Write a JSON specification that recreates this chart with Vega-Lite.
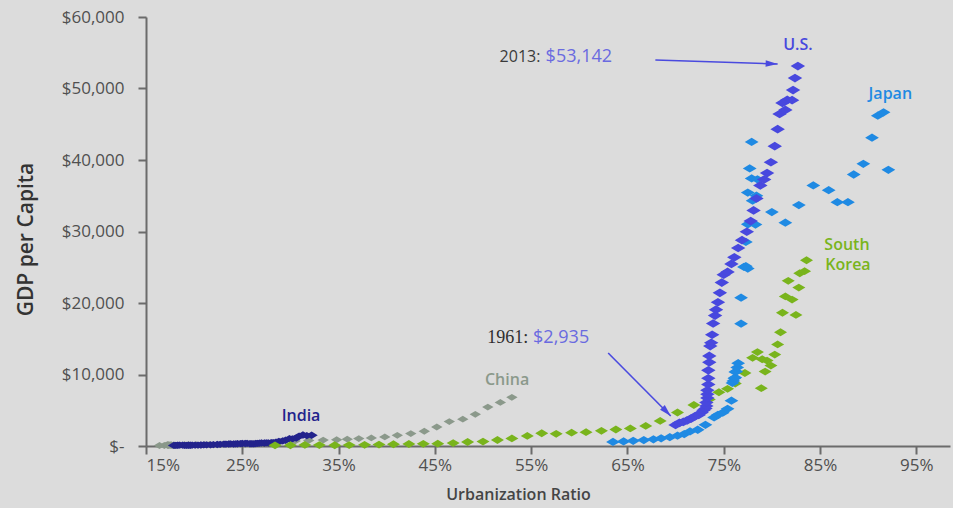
{
  "$schema": "https://vega.github.io/schema/vega-lite/v6.json",
  "width": 804,
  "height": 429,
  "autosize": {"type": "none"},
  "padding": {"left": 146, "top": 17, "right": 3, "bottom": 62},
  "background": "#dcdcdc",
  "config": {
    "view": {"stroke": null},
    "font": "Open Sans",
    "axis": {
      "domainColor": "#6b6b6b",
      "domainWidth": 2,
      "tickColor": "#6b6b6b",
      "tickWidth": 2,
      "tickSize": 8,
      "grid": false,
      "labelFont": "Open Sans",
      "labelFontSize": 17,
      "labelColor": "#505050",
      "titleFont": "Open Sans",
      "titleColor": "#3a3a3a"
    }
  },
  "datasets": {
    "pts": [
      {"c": "China", "yr": 1961, "u": 16.4, "g": 75}, {"c": "China", "yr": 1962, "u": 16.9, "g": 70},
      {"c": "China", "yr": 1963, "u": 17.3, "g": 74}, {"c": "China", "yr": 1964, "u": 17.8, "g": 85},
      {"c": "China", "yr": 1965, "u": 18.0, "g": 98}, {"c": "China", "yr": 1966, "u": 17.9, "g": 104},
      {"c": "China", "yr": 1967, "u": 17.7, "g": 97}, {"c": "China", "yr": 1968, "u": 17.6, "g": 91},
      {"c": "China", "yr": 1969, "u": 17.5, "g": 100}, {"c": "China", "yr": 1970, "u": 17.4, "g": 112},
      {"c": "China", "yr": 1971, "u": 17.3, "g": 118}, {"c": "China", "yr": 1972, "u": 17.2, "g": 131},
      {"c": "China", "yr": 1973, "u": 17.2, "g": 157}, {"c": "China", "yr": 1974, "u": 17.2, "g": 160},
      {"c": "China", "yr": 1975, "u": 17.3, "g": 178}, {"c": "China", "yr": 1976, "u": 17.4, "g": 165},
      {"c": "China", "yr": 1977, "u": 17.6, "g": 185}, {"c": "China", "yr": 1978, "u": 17.9, "g": 155},
      {"c": "China", "yr": 1979, "u": 19.0, "g": 183}, {"c": "China", "yr": 1980, "u": 19.4, "g": 193},
      {"c": "China", "yr": 1981, "u": 20.2, "g": 197}, {"c": "China", "yr": 1982, "u": 21.1, "g": 203},
      {"c": "China", "yr": 1983, "u": 21.6, "g": 225}, {"c": "China", "yr": 1984, "u": 23.0, "g": 250},
      {"c": "China", "yr": 1985, "u": 23.7, "g": 294}, {"c": "China", "yr": 1986, "u": 24.5, "g": 281},
      {"c": "China", "yr": 1987, "u": 25.3, "g": 251}, {"c": "China", "yr": 1988, "u": 25.8, "g": 283},
      {"c": "China", "yr": 1989, "u": 26.2, "g": 310}, {"c": "China", "yr": 1990, "u": 26.4, "g": 317},
      {"c": "China", "yr": 1991, "u": 27.0, "g": 333}, {"c": "China", "yr": 1992, "u": 27.5, "g": 366},
      {"c": "China", "yr": 1993, "u": 28.0, "g": 377}, {"c": "China", "yr": 1994, "u": 28.5, "g": 473},
      {"c": "China", "yr": 1995, "u": 29.0, "g": 610}, {"c": "China", "yr": 1996, "u": 30.5, "g": 709},
      {"c": "China", "yr": 1997, "u": 31.9, "g": 782}, {"c": "China", "yr": 1998, "u": 33.4, "g": 829},
      {"c": "China", "yr": 1999, "u": 34.8, "g": 873}, {"c": "China", "yr": 2000, "u": 35.9, "g": 954},
      {"c": "China", "yr": 2001, "u": 37.1, "g": 1042}, {"c": "China", "yr": 2002, "u": 38.4, "g": 1135},
      {"c": "China", "yr": 2003, "u": 39.8, "g": 1274}, {"c": "China", "yr": 2004, "u": 41.1, "g": 1490},
      {"c": "China", "yr": 2005, "u": 42.5, "g": 1731}, {"c": "China", "yr": 2006, "u": 43.9, "g": 2069},
      {"c": "China", "yr": 2007, "u": 45.2, "g": 2651}, {"c": "China", "yr": 2008, "u": 46.5, "g": 3414},
      {"c": "China", "yr": 2009, "u": 47.9, "g": 3749}, {"c": "China", "yr": 2010, "u": 49.2, "g": 4434},
      {"c": "China", "yr": 2011, "u": 50.5, "g": 5447}, {"c": "China", "yr": 2012, "u": 51.8, "g": 6093},
      {"c": "China", "yr": 2013, "u": 53.0, "g": 6807},

      {"c": "India", "yr": 1961, "u": 17.9, "g": 86}, {"c": "India", "yr": 1962, "u": 18.1, "g": 90},
      {"c": "India", "yr": 1963, "u": 18.3, "g": 101}, {"c": "India", "yr": 1964, "u": 18.5, "g": 116},
      {"c": "India", "yr": 1965, "u": 18.8, "g": 119}, {"c": "India", "yr": 1966, "u": 19.0, "g": 90},
      {"c": "India", "yr": 1967, "u": 19.2, "g": 96}, {"c": "India", "yr": 1968, "u": 19.4, "g": 99},
      {"c": "India", "yr": 1969, "u": 19.6, "g": 107}, {"c": "India", "yr": 1970, "u": 19.8, "g": 112},
      {"c": "India", "yr": 1971, "u": 20.1, "g": 118}, {"c": "India", "yr": 1972, "u": 20.4, "g": 122},
      {"c": "India", "yr": 1973, "u": 20.7, "g": 143}, {"c": "India", "yr": 1974, "u": 21.0, "g": 163},
      {"c": "India", "yr": 1975, "u": 21.3, "g": 158}, {"c": "India", "yr": 1976, "u": 21.7, "g": 161},
      {"c": "India", "yr": 1977, "u": 22.0, "g": 186}, {"c": "India", "yr": 1978, "u": 22.4, "g": 204},
      {"c": "India", "yr": 1979, "u": 22.7, "g": 224}, {"c": "India", "yr": 1980, "u": 23.1, "g": 267},
      {"c": "India", "yr": 1981, "u": 23.3, "g": 271}, {"c": "India", "yr": 1982, "u": 23.6, "g": 275},
      {"c": "India", "yr": 1983, "u": 23.8, "g": 291}, {"c": "India", "yr": 1984, "u": 24.1, "g": 277},
      {"c": "India", "yr": 1985, "u": 24.3, "g": 297}, {"c": "India", "yr": 1986, "u": 24.5, "g": 310},
      {"c": "India", "yr": 1987, "u": 24.8, "g": 340}, {"c": "India", "yr": 1988, "u": 25.0, "g": 355},
      {"c": "India", "yr": 1989, "u": 25.3, "g": 346}, {"c": "India", "yr": 1990, "u": 25.5, "g": 376},
      {"c": "India", "yr": 1991, "u": 25.8, "g": 309}, {"c": "India", "yr": 1992, "u": 26.0, "g": 317},
      {"c": "India", "yr": 1993, "u": 26.2, "g": 301}, {"c": "India", "yr": 1994, "u": 26.4, "g": 346},
      {"c": "India", "yr": 1995, "u": 26.6, "g": 374}, {"c": "India", "yr": 1996, "u": 26.8, "g": 400},
      {"c": "India", "yr": 1997, "u": 27.0, "g": 415}, {"c": "India", "yr": 1998, "u": 27.3, "g": 413},
      {"c": "India", "yr": 1999, "u": 27.5, "g": 441}, {"c": "India", "yr": 2000, "u": 27.7, "g": 443},
      {"c": "India", "yr": 2001, "u": 28.0, "g": 452}, {"c": "India", "yr": 2002, "u": 28.2, "g": 471},
      {"c": "India", "yr": 2003, "u": 28.5, "g": 546}, {"c": "India", "yr": 2004, "u": 28.8, "g": 628},
      {"c": "India", "yr": 2005, "u": 29.2, "g": 715}, {"c": "India", "yr": 2006, "u": 29.5, "g": 807},
      {"c": "India", "yr": 2007, "u": 29.9, "g": 1028}, {"c": "India", "yr": 2008, "u": 30.2, "g": 999},
      {"c": "India", "yr": 2009, "u": 30.6, "g": 1102}, {"c": "India", "yr": 2010, "u": 30.9, "g": 1387},
      {"c": "India", "yr": 2011, "u": 31.3, "g": 1533}, {"c": "India", "yr": 2012, "u": 31.7, "g": 1450},
      {"c": "India", "yr": 2013, "u": 32.2, "g": 1498},

      {"c": "South Korea", "yr": 1961, "u": 28.4, "g": 92}, {"c": "South Korea", "yr": 1962, "u": 30.0, "g": 106},
      {"c": "South Korea", "yr": 1963, "u": 31.5, "g": 146}, {"c": "South Korea", "yr": 1964, "u": 33.0, "g": 124},
      {"c": "South Korea", "yr": 1965, "u": 34.6, "g": 108}, {"c": "South Korea", "yr": 1966, "u": 36.1, "g": 133},
      {"c": "South Korea", "yr": 1967, "u": 37.7, "g": 161}, {"c": "South Korea", "yr": 1968, "u": 39.2, "g": 198},
      {"c": "South Korea", "yr": 1969, "u": 40.7, "g": 243}, {"c": "South Korea", "yr": 1970, "u": 42.3, "g": 279},
      {"c": "South Korea", "yr": 1971, "u": 43.8, "g": 301}, {"c": "South Korea", "yr": 1972, "u": 45.3, "g": 324},
      {"c": "South Korea", "yr": 1973, "u": 46.9, "g": 407}, {"c": "South Korea", "yr": 1974, "u": 48.4, "g": 563},
      {"c": "South Korea", "yr": 1975, "u": 50.0, "g": 616}, {"c": "South Korea", "yr": 1976, "u": 51.5, "g": 834},
      {"c": "South Korea", "yr": 1977, "u": 53.0, "g": 1055}, {"c": "South Korea", "yr": 1978, "u": 54.6, "g": 1405},
      {"c": "South Korea", "yr": 1979, "u": 56.1, "g": 1784}, {"c": "South Korea", "yr": 1980, "u": 57.6, "g": 1704},
      {"c": "South Korea", "yr": 1981, "u": 59.2, "g": 1870}, {"c": "South Korea", "yr": 1982, "u": 60.7, "g": 1939},
      {"c": "South Korea", "yr": 1983, "u": 62.3, "g": 2118}, {"c": "South Korea", "yr": 1984, "u": 63.8, "g": 2307},
      {"c": "South Korea", "yr": 1985, "u": 65.3, "g": 2457}, {"c": "South Korea", "yr": 1986, "u": 66.9, "g": 2803},
      {"c": "South Korea", "yr": 1987, "u": 68.4, "g": 3511}, {"c": "South Korea", "yr": 1988, "u": 70.2, "g": 4687},
      {"c": "South Korea", "yr": 1989, "u": 71.9, "g": 5739}, {"c": "South Korea", "yr": 1990, "u": 73.5, "g": 6513},
      {"c": "South Korea", "yr": 1991, "u": 74.5, "g": 7522}, {"c": "South Korea", "yr": 1992, "u": 75.4, "g": 7996},
      {"c": "South Korea", "yr": 1993, "u": 76.2, "g": 8741}, {"c": "South Korea", "yr": 1994, "u": 77.2, "g": 10206},
      {"c": "South Korea", "yr": 1995, "u": 78.0, "g": 12333}, {"c": "South Korea", "yr": 1996, "u": 78.5, "g": 13137},
      {"c": "South Korea", "yr": 1997, "u": 79.0, "g": 12131}, {"c": "South Korea", "yr": 1998, "u": 78.9, "g": 8085},
      {"c": "South Korea", "yr": 1999, "u": 79.3, "g": 10409}, {"c": "South Korea", "yr": 2000, "u": 79.5, "g": 11948},
      {"c": "South Korea", "yr": 2001, "u": 79.9, "g": 11253}, {"c": "South Korea", "yr": 2002, "u": 80.3, "g": 12789},
      {"c": "South Korea", "yr": 2003, "u": 80.6, "g": 14209}, {"c": "South Korea", "yr": 2004, "u": 80.9, "g": 15908},
      {"c": "South Korea", "yr": 2005, "u": 81.1, "g": 18640}, {"c": "South Korea", "yr": 2006, "u": 81.4, "g": 20917},
      {"c": "South Korea", "yr": 2007, "u": 81.7, "g": 23101}, {"c": "South Korea", "yr": 2008, "u": 82.1, "g": 20475},
      {"c": "South Korea", "yr": 2009, "u": 82.5, "g": 18339}, {"c": "South Korea", "yr": 2010, "u": 82.8, "g": 22151},
      {"c": "South Korea", "yr": 2011, "u": 82.9, "g": 24156}, {"c": "South Korea", "yr": 2012, "u": 83.4, "g": 24454},
      {"c": "South Korea", "yr": 2013, "u": 83.6, "g": 25977},

      {"c": "Japan", "yr": 1961, "u": 63.5, "g": 563}, {"c": "Japan", "yr": 1962, "u": 64.6, "g": 633},
      {"c": "Japan", "yr": 1963, "u": 65.6, "g": 717}, {"c": "Japan", "yr": 1964, "u": 66.7, "g": 835},
      {"c": "Japan", "yr": 1965, "u": 67.7, "g": 929}, {"c": "Japan", "yr": 1966, "u": 68.5, "g": 1069},
      {"c": "Japan", "yr": 1967, "u": 69.4, "g": 1229}, {"c": "Japan", "yr": 1968, "u": 70.2, "g": 1450},
      {"c": "Japan", "yr": 1969, "u": 70.9, "g": 1669}, {"c": "Japan", "yr": 1970, "u": 71.5, "g": 2038},
      {"c": "Japan", "yr": 1971, "u": 72.3, "g": 2272}, {"c": "Japan", "yr": 1972, "u": 73.1, "g": 2967},
      {"c": "Japan", "yr": 1973, "u": 74.0, "g": 3997}, {"c": "Japan", "yr": 1974, "u": 74.4, "g": 4354},
      {"c": "Japan", "yr": 1975, "u": 74.9, "g": 4659}, {"c": "Japan", "yr": 1976, "u": 75.4, "g": 5198},
      {"c": "Japan", "yr": 1977, "u": 75.8, "g": 6335}, {"c": "Japan", "yr": 1978, "u": 75.9, "g": 8821},
      {"c": "Japan", "yr": 1979, "u": 76.0, "g": 9105}, {"c": "Japan", "yr": 1980, "u": 76.1, "g": 9463},
      {"c": "Japan", "yr": 1981, "u": 76.2, "g": 10361}, {"c": "Japan", "yr": 1982, "u": 76.2, "g": 9578},
      {"c": "Japan", "yr": 1983, "u": 76.3, "g": 10425}, {"c": "Japan", "yr": 1984, "u": 76.4, "g": 10984},
      {"c": "Japan", "yr": 1985, "u": 76.5, "g": 11585}, {"c": "Japan", "yr": 1986, "u": 76.8, "g": 17112},
      {"c": "Japan", "yr": 1987, "u": 76.8, "g": 20745}, {"c": "Japan", "yr": 1988, "u": 77.1, "g": 25051},
      {"c": "Japan", "yr": 1989, "u": 77.5, "g": 24813}, {"c": "Japan", "yr": 1990, "u": 77.3, "g": 25140},
      {"c": "Japan", "yr": 1991, "u": 77.3, "g": 28541}, {"c": "Japan", "yr": 1992, "u": 77.5, "g": 31014},
      {"c": "Japan", "yr": 1993, "u": 77.5, "g": 35451}, {"c": "Japan", "yr": 1994, "u": 77.7, "g": 38815},
      {"c": "Japan", "yr": 1995, "u": 77.9, "g": 42522}, {"c": "Japan", "yr": 1996, "u": 77.9, "g": 37423},
      {"c": "Japan", "yr": 1997, "u": 78.0, "g": 34304}, {"c": "Japan", "yr": 1998, "u": 78.3, "g": 30970},
      {"c": "Japan", "yr": 1999, "u": 78.4, "g": 35004}, {"c": "Japan", "yr": 2000, "u": 78.5, "g": 37300},
      {"c": "Japan", "yr": 2001, "u": 80.0, "g": 32716}, {"c": "Japan", "yr": 2002, "u": 81.4, "g": 31236},
      {"c": "Japan", "yr": 2003, "u": 82.8, "g": 33691}, {"c": "Japan", "yr": 2004, "u": 84.3, "g": 36442},
      {"c": "Japan", "yr": 2005, "u": 85.9, "g": 35781}, {"c": "Japan", "yr": 2006, "u": 86.8, "g": 34102},
      {"c": "Japan", "yr": 2007, "u": 87.9, "g": 34095}, {"c": "Japan", "yr": 2008, "u": 88.5, "g": 37972},
      {"c": "Japan", "yr": 2009, "u": 89.5, "g": 39473}, {"c": "Japan", "yr": 2010, "u": 90.4, "g": 43118},
      {"c": "Japan", "yr": 2011, "u": 91.0, "g": 46204}, {"c": "Japan", "yr": 2012, "u": 91.6, "g": 46662},
      {"c": "Japan", "yr": 2013, "u": 92.1, "g": 38634},

      {"c": "U.S.", "yr": 1961, "u": 70.0, "g": 2935}, {"c": "U.S.", "yr": 1962, "u": 70.4, "g": 3244},
      {"c": "U.S.", "yr": 1963, "u": 70.8, "g": 3374}, {"c": "U.S.", "yr": 1964, "u": 71.2, "g": 3574},
      {"c": "U.S.", "yr": 1965, "u": 71.6, "g": 3828}, {"c": "U.S.", "yr": 1966, "u": 72.0, "g": 4146},
      {"c": "U.S.", "yr": 1967, "u": 72.4, "g": 4336}, {"c": "U.S.", "yr": 1968, "u": 72.7, "g": 4696},
      {"c": "U.S.", "yr": 1969, "u": 72.9, "g": 4998}, {"c": "U.S.", "yr": 1970, "u": 73.1, "g": 5247},
      {"c": "U.S.", "yr": 1971, "u": 73.2, "g": 5609}, {"c": "U.S.", "yr": 1972, "u": 73.2, "g": 6094},
      {"c": "U.S.", "yr": 1973, "u": 73.3, "g": 6726}, {"c": "U.S.", "yr": 1974, "u": 73.3, "g": 7242},
      {"c": "U.S.", "yr": 1975, "u": 73.3, "g": 7801}, {"c": "U.S.", "yr": 1976, "u": 73.4, "g": 8611},
      {"c": "U.S.", "yr": 1977, "u": 73.4, "g": 9475}, {"c": "U.S.", "yr": 1978, "u": 73.4, "g": 10587},
      {"c": "U.S.", "yr": 1979, "u": 73.5, "g": 11696}, {"c": "U.S.", "yr": 1980, "u": 73.5, "g": 12598},
      {"c": "U.S.", "yr": 1981, "u": 73.6, "g": 13976}, {"c": "U.S.", "yr": 1982, "u": 73.7, "g": 14439},
      {"c": "U.S.", "yr": 1983, "u": 73.8, "g": 15561}, {"c": "U.S.", "yr": 1984, "u": 73.9, "g": 17134},
      {"c": "U.S.", "yr": 1985, "u": 74.1, "g": 18237}, {"c": "U.S.", "yr": 1986, "u": 74.2, "g": 19071},
      {"c": "U.S.", "yr": 1987, "u": 74.4, "g": 20101}, {"c": "U.S.", "yr": 1988, "u": 74.6, "g": 21417},
      {"c": "U.S.", "yr": 1989, "u": 74.8, "g": 22857}, {"c": "U.S.", "yr": 1990, "u": 75.0, "g": 23955},
      {"c": "U.S.", "yr": 1991, "u": 75.4, "g": 24342}, {"c": "U.S.", "yr": 1992, "u": 75.8, "g": 25467},
      {"c": "U.S.", "yr": 1993, "u": 76.1, "g": 26387}, {"c": "U.S.", "yr": 1994, "u": 76.5, "g": 27695},
      {"c": "U.S.", "yr": 1995, "u": 76.9, "g": 28782}, {"c": "U.S.", "yr": 1996, "u": 77.4, "g": 29968},
      {"c": "U.S.", "yr": 1997, "u": 77.8, "g": 31459}, {"c": "U.S.", "yr": 1998, "u": 78.1, "g": 32949},
      {"c": "U.S.", "yr": 1999, "u": 78.4, "g": 34621}, {"c": "U.S.", "yr": 2000, "u": 78.8, "g": 36450},
      {"c": "U.S.", "yr": 2001, "u": 79.2, "g": 37274}, {"c": "U.S.", "yr": 2002, "u": 79.5, "g": 38175},
      {"c": "U.S.", "yr": 2003, "u": 79.9, "g": 39682}, {"c": "U.S.", "yr": 2004, "u": 80.3, "g": 41928},
      {"c": "U.S.", "yr": 2005, "u": 80.6, "g": 44308}, {"c": "U.S.", "yr": 2006, "u": 80.8, "g": 46437},
      {"c": "U.S.", "yr": 2007, "u": 81.1, "g": 47976}, {"c": "U.S.", "yr": 2008, "u": 81.6, "g": 48401},
      {"c": "U.S.", "yr": 2009, "u": 81.4, "g": 46999}, {"c": "U.S.", "yr": 2010, "u": 82.1, "g": 48374},
      {"c": "U.S.", "yr": 2011, "u": 82.2, "g": 49781}, {"c": "U.S.", "yr": 2012, "u": 82.4, "g": 51457},
      {"c": "U.S.", "yr": 2013, "u": 82.7, "g": 53142}
    ],
    "names": [
      {"c": "U.S.", "t": "U.S.", "u": 82.7, "g": 56100},
      {"c": "Japan", "t": "Japan", "u": 92.3, "g": 49230},
      {"c": "South Korea", "t": "South", "u": 87.8, "g": 28100},
      {"c": "South Korea", "t": "Korea", "u": 87.9, "g": 25300},
      {"c": "China", "t": "China", "u": 52.5, "g": 9230},
      {"c": "India", "t": "India", "u": 31.1, "g": 4200}
    ],
    "arrows": [
      {"a": "2013", "u1": 67.9, "g1": 53990, "u2": 80.6, "g2": 53430},
      {"a": "1961", "u1": 63.0, "g1": 13000, "u2": 69.5, "g2": 4200}
    ]
  },
  "encoding": {
    "x": {"type": "quantitative", "scale": {"domain": [15, 98.5], "nice": false, "zero": false}},
    "y": {"type": "quantitative", "scale": {"domain": [0, 60000], "nice": false}}
  },
  "layer": [
    {
      "data": {"name": "pts"},
      "mark": {"type": "point", "filled": true, "opacity": 1, "shape": "M-1,0L0,-0.6L1,0L0,0.6Z"},
      "encoding": {
        "x": {
          "field": "u", "type": "quantitative",
          "axis": {
            "values": [15, 25, 35, 45, 55, 65, 75, 85, 95],
            "labelExpr": "datum.value + '%'",
            "labelPadding": 3,
            "title": "Urbanization Ratio",
            "titleFontSize": 16,
            "titleFontWeight": 600,
            "titleColor": "#454545",
            "titleX": 372,
            "titleAlign": "center",
            "titlePadding": 13
          }
        },
        "y": {
          "field": "g", "type": "quantitative",
          "axis": {
            "values": [0, 10000, 20000, 30000, 40000, 50000, 60000],
            "labelExpr": "datum.value == 0 ? '$-' : '$' + format(datum.value, ',')",
            "labelPadding": 14,
            "title": "GDP per Capita",
            "titleFontSize": 21,
            "titleFontWeight": 600,
            "titleColor": "#333333",
            "titleX": -120,
            "titleY": 222,
            "titleAlign": "center",
            "titleBaseline": "middle"
          }
        },
        "color": {
          "field": "c", "type": "nominal", "legend": null,
          "scale": {
            "domain": ["China", "India", "South Korea", "Japan", "U.S."],
            "range": ["#8b998b", "#23238c", "#79b41c", "#1f8ae3", "#4848de"]
          }
        },
        "size": {
          "field": "c", "type": "nominal", "legend": null,
          "scale": {
            "domain": ["China", "India", "South Korea", "Japan", "U.S."],
            "range": [130, 210, 135, 155, 160]
          }
        }
      }
    },
    {
      "data": {"name": "arrows"},
      "mark": {"type": "rule", "color": "#4a4adf", "strokeWidth": 1.6},
      "encoding": {
        "x": {"field": "u1", "type": "quantitative"},
        "y": {"field": "g1", "type": "quantitative"},
        "x2": {"field": "u2"},
        "y2": {"field": "g2"}
      }
    },
    {
      "data": {"name": "arrows"},
      "transform": [{"filter": "datum.a == '2013'"}],
      "mark": {"type": "point", "filled": true, "opacity": 1, "color": "#4a4adf", "size": 144, "angle": 2, "shape": "M0,0L-2,-0.55L-2,0.55Z"},
      "encoding": {
        "x": {"field": "u2", "type": "quantitative"},
        "y": {"field": "g2", "type": "quantitative"}
      }
    },
    {
      "data": {"name": "arrows"},
      "transform": [{"filter": "datum.a == '1961'"}],
      "mark": {"type": "point", "filled": true, "opacity": 1, "color": "#4a4adf", "size": 144, "angle": 46, "shape": "M0,0L-2,-0.55L-2,0.55Z"},
      "encoding": {
        "x": {"field": "u2", "type": "quantitative"},
        "y": {"field": "g2", "type": "quantitative"}
      }
    },
    {
      "data": {"name": "names"},
      "mark": {"type": "text", "font": "Open Sans", "fontSize": 16, "fontWeight": 600, "align": "center", "baseline": "middle"},
      "encoding": {
        "x": {"field": "u", "type": "quantitative"},
        "y": {"field": "g", "type": "quantitative"},
        "text": {"field": "t"},
        "color": {"field": "c", "type": "nominal", "legend": null}
      }
    },
    {
      "data": {"values": [{"t": "2013:", "u": 55.96, "g": 54400}]},
      "mark": {"type": "text", "font": "Open Sans", "fontSize": 16, "color": "#3a3a3a", "align": "right", "baseline": "middle"},
      "encoding": {
        "x": {"field": "u", "type": "quantitative"},
        "y": {"field": "g", "type": "quantitative"},
        "text": {"field": "t"}
      }
    },
    {
      "data": {"values": [{"t": "1961:", "u": 54.7, "g": 15100}]},
      "mark": {"type": "text", "font": "Liberation Serif", "fontSize": 18, "color": "#2e2e2e", "align": "right", "baseline": "middle"},
      "encoding": {
        "x": {"field": "u", "type": "quantitative"},
        "y": {"field": "g", "type": "quantitative"},
        "text": {"field": "t"}
      }
    },
    {
      "data": {"values": [{"t": "$53,142", "u": 56.5, "g": 54400}, {"t": "$2,935", "u": 55.2, "g": 15100}]},
      "mark": {"type": "text", "font": "Open Sans", "fontSize": 18, "color": "#6a6ae0", "align": "left", "baseline": "middle"},
      "encoding": {
        "x": {"field": "u", "type": "quantitative"},
        "y": {"field": "g", "type": "quantitative"},
        "text": {"field": "t"}
      }
    }
  ]
}
